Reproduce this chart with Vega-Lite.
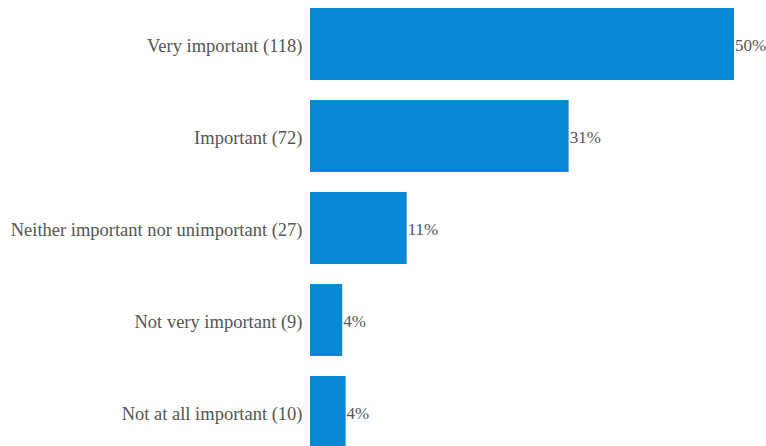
{
  "$schema": "https://vega.github.io/schema/vega-lite/v6.json",
  "width": 424,
  "height": 446,
  "autosize": {"type": "none"},
  "padding": {"left": 310, "top": 0, "right": 32, "bottom": 0},
  "config": {"view": {"stroke": null}, "font": "Liberation Serif"},
  "data": {
    "values": [
      {"label": "Very important (118)", "pct": 50.0, "text": "50%"},
      {"label": "Important (72)", "pct": 30.5, "text": "31%"},
      {"label": "Neither important nor unimportant (27)", "pct": 11.4, "text": "11%"},
      {"label": "Not very important (9)", "pct": 3.8, "text": "4%"},
      {"label": "Not at all important (10)", "pct": 4.2, "text": "4%"}
    ]
  },
  "encoding": {
    "y": {
      "field": "label", "type": "nominal", "sort": null,
      "scale": {"range": [8, 448], "paddingInner": 0.2174, "paddingOuter": 0},
      "axis": {"title": null, "ticks": false, "domain": false, "labelPadding": 8, "labelFont": "Liberation Serif", "labelFontSize": 18.5, "labelColor": "#555555", "labelLimit": 400, "labelBaseline": "middle", "labelOffset": 2}
    },
    "x": {
      "field": "pct", "type": "quantitative",
      "scale": {"domain": [0, 50], "nice": false},
      "axis": null
    }
  },
  "layer": [
    {"mark": {"type": "bar", "color": "#0788D4"}},
    {"mark": {"type": "text", "align": "left", "dx": 1, "dy": 2, "font": "Liberation Serif", "fontSize": 17, "color": "#555555"},
     "encoding": {"text": {"field": "text"}}}
  ]
}
